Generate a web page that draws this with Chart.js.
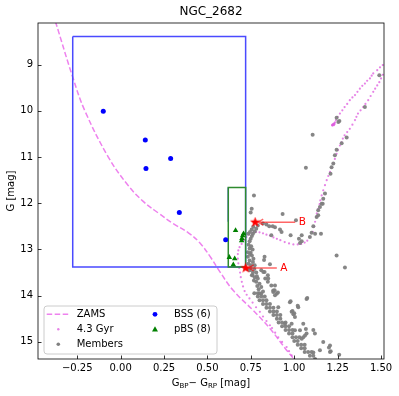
<!DOCTYPE html>
<html>
<head>
<meta charset="utf-8">
<script src="https://cdn.jsdelivr.net/npm/chart.js@4.4.1/dist/chart.umd.min.js"></script>
<style>
  html, body { margin: 0; padding: 0; background: white; }
  canvas { display: block; }
</style>
</head>
<body>
<canvas id="cmd" width="399" height="396"></canvas>
<script>
const FONT = "'DejaVu Sans', sans-serif";

// Tick labels
const xTicks = [-0.25, 0, 0.25, 0.5, 0.75, 1.0, 1.25, 1.5];
const yTicks = [9, 10, 11, 12, 13, 14, 15];

// Zero-age main sequence (BP-RP, G)
const zams = [
    [-0.39, 7.9], [-0.373, 8.1], [-0.276, 9.27], [-0.206, 10.0], [-0.071, 11.0],
    [0.04, 11.6], [0.13, 11.96], [0.22, 12.22], [0.303, 12.44], [0.39, 12.64], [0.457, 12.86],
    [0.52, 13.18], [0.573, 13.49], [0.649, 13.89], [0.764, 14.32], [0.86, 14.71],
    [0.956, 15.18], [1.004, 15.4], [1.02, 15.5]
];

// 4.3 Gyr isochrone
const isochrone = [
    [1.0, 15.37], [0.985, 15.29], [0.97, 15.2], [0.956, 15.11], [0.93, 15.0], [0.908, 14.9],
    [0.89, 14.8], [0.872, 14.7], [0.86, 14.64], [0.84, 14.55], [0.82, 14.45], [0.802, 14.35],
    [0.78, 14.25], [0.76, 14.15], [0.742, 14.06], [0.726, 13.98], [0.714, 13.9], [0.705, 13.8],
    [0.698, 13.7], [0.692, 13.6], [0.688, 13.5], [0.683, 13.4], [0.678, 13.3], [0.675, 13.2],
    [0.675, 13.1], [0.678, 13.02], [0.685, 12.95], [0.697, 12.88], [0.71, 12.8], [0.725, 12.73],
    [0.74, 12.68], [0.76, 12.64], [0.78, 12.62], [0.8, 12.63], [0.82, 12.65], [0.84, 12.68],
    [0.86, 12.7], [0.88, 12.74], [0.9, 12.77], [0.92, 12.8], [0.945, 12.84], [0.97, 12.87],
    [0.995, 12.89], [1.02, 12.89], [1.04, 12.88], [1.06, 12.85], [1.075, 12.81], [1.09, 12.73],
    [1.106, 12.62], [1.115, 12.5], [1.12, 12.4], [1.126, 12.3], [1.13, 12.22], [1.138, 12.12],
    [1.146, 12.02], [1.15, 11.94], [1.158, 11.83], [1.167, 11.72], [1.177, 11.61], [1.187, 11.5],
    [1.196, 11.41], [1.206, 11.32], [1.215, 11.23], [1.225, 11.14], [1.234, 11.04], [1.244, 10.93],
    [1.252, 10.85], [1.263, 10.75], [1.273, 10.68], [1.28, 10.6], [1.29, 10.53], [1.305, 10.46],
    [1.32, 10.39], [1.335, 10.3], [1.35, 10.2], [1.358, 10.13], [1.367, 10.06], [1.382, 9.99],
    [1.397, 9.92], [1.41, 9.85], [1.426, 9.77], [1.44, 9.68], [1.455, 9.59], [1.466, 9.52],
    [1.478, 9.45], [1.49, 9.38], [1.5, 9.3], [1.51, 9.22],
    [1.22, 10.3], [1.225, 10.28], [1.23, 10.27], [1.22, 10.32], [1.228, 10.31], [1.235, 10.25],
    [1.24, 10.2], [1.232, 10.29], [1.218, 10.31], [1.226, 10.3],
    [1.25, 10.13], [1.263, 10.06], [1.277, 9.99], [1.29, 9.92], [1.305, 9.85], [1.32, 9.77],
    [1.335, 9.71], [1.35, 9.66], [1.364, 9.59], [1.378, 9.52], [1.392, 9.46], [1.407, 9.41],
    [1.42, 9.35], [1.436, 9.3], [1.446, 9.24], [1.455, 9.19], [1.478, 9.12], [1.494, 9.06],
    [1.51, 9.01]
];

// Cluster members
const members = [
    [1.49, 9.23], [1.407, 9.92], [1.254, 10.24], [1.244, 10.15], [1.26, 10.22], [1.302, 10.58],
    [1.273, 10.7], [1.106, 10.52], [1.244, 10.84], [1.234, 10.96], [1.225, 11.14], [1.215, 11.22],
    [1.209, 11.36], [1.067, 11.23], [1.177, 11.79], [1.167, 11.9], [1.158, 12.01], [1.148, 12.08],
    [1.164, 12.01], [1.138, 12.15], [1.138, 12.26], [1.129, 12.3], [1.11, 12.5], [0.768, 11.83],
    [1.01, 12.37], [0.933, 12.23], [0.856, 12.5], [0.876, 12.5], [0.889, 12.52], [0.918, 12.57],
    [0.927, 12.62], [0.979, 12.69], [1.027, 12.77], [1.043, 12.82], [1.033, 12.86],
    [1.043, 12.69], [1.09, 12.73], [1.1, 12.64], [1.12, 12.66], [1.154, 12.66],
    [0.868, 12.69], [0.84, 12.46], [0.82, 12.44],
    [0.755, 12.12], [0.749, 12.2], [0.79, 12.48], [0.781, 12.55], [0.772, 12.61], [0.762, 12.66],
    [0.756, 12.71], [0.749, 12.77], [0.743, 12.82], [0.737, 12.9], [0.752, 12.93], [0.743, 12.98],
    [0.733, 13.06], [0.749, 13.07], [0.756, 13.13], [0.733, 13.16], [0.743, 13.24], [0.762, 13.27],
    [0.737, 13.31], [0.752, 13.34], [0.772, 13.34], [0.729, 13.42], [0.743, 13.45], [0.762, 13.49],
    [0.781, 13.5], [0.756, 13.56], [0.772, 13.6], [0.79, 13.63], [0.768, 13.67], [0.781, 13.7],
    [0.8, 13.74], [0.787, 13.79], [0.81, 13.81], [0.795, 13.86], [0.82, 13.91], [0.81, 13.96],
    [0.764, 12.51], [0.755, 12.57], [0.745, 12.62], [0.735, 12.66],
    [0.76, 13.0], [0.745, 13.1], [0.765, 13.2], [0.75, 13.4], [0.77, 13.42], [0.76, 13.55], [0.785, 13.58],
    [0.829, 13.16], [0.826, 13.23], [0.86, 13.32], [0.81, 13.45], [0.829, 13.49], [0.848, 13.56],
    [0.833, 13.63], [0.848, 13.7], [0.868, 13.78], [0.887, 13.88], [0.906, 13.93], [0.822, 13.49],
    [0.85, 13.63], [0.889, 13.78], [0.879, 13.89], [0.899, 13.96], [0.879, 13.92], [0.889, 13.99],
    [1.244, 13.13], [1.292, 13.39],
    [0.77, 13.95], [0.79, 13.95], [0.8, 13.95], [0.79, 14.02], [0.81, 14.02], [0.83, 14.02],
    [0.8, 14.1], [0.82, 14.1], [0.84, 14.1], [0.82, 14.18], [0.84, 14.18], [0.86, 14.18],
    [0.84, 14.26], [0.86, 14.26], [0.88, 14.26], [0.86, 14.34], [0.88, 14.34], [0.9, 14.34],
    [0.88, 14.42], [0.9, 14.42], [0.92, 14.42], [0.9, 14.5], [0.92, 14.5], [0.91, 14.58],
    [0.93, 14.58], [0.95, 14.58], [0.93, 14.66], [0.95, 14.66], [0.97, 14.66], [0.95, 14.74],
    [0.97, 14.74], [0.99, 14.74], [0.97, 14.82], [0.99, 14.82], [0.99, 14.9], [1.01, 14.9],
    [1.03, 14.9], [1.0, 14.98], [1.02, 14.98], [1.02, 15.06], [1.04, 15.06], [1.06, 15.06],
    [1.04, 15.14], [1.06, 15.14], [1.06, 15.22], [1.08, 15.22], [1.1, 15.22], [1.09, 15.3],
    [1.11, 15.3], [1.12, 15.37],
    [0.975, 14.14], [1.071, 14.07], [1.075, 14.05], [1.023, 14.25], [1.02, 14.22], [0.979, 14.12],
    [0.908, 14.25], [0.985, 14.35], [0.99, 14.33], [1.0, 14.38], [0.995, 14.4], [1.004, 14.46],
    [0.946, 14.61], [0.985, 14.61], [1.052, 14.61], [1.004, 14.75], [1.033, 14.75], [1.067, 14.72],
    [1.11, 14.74], [1.071, 14.82], [1.052, 14.9], [1.043, 14.93], [1.062, 14.86], [1.119, 14.82],
    [1.167, 15.0], [1.206, 15.08], [1.2, 15.12], [1.148, 15.18], [1.21, 15.2], [1.11, 15.23],
    [1.206, 15.22], [1.259, 15.28]
];

// Blue stragglers and probable blue stragglers
const bss = [[-0.1, 10.01], [0.142, 10.63], [0.146, 11.25], [0.288, 11.03], [0.338, 12.2], [0.605, 12.79]];
const pbs = [[0.662, 12.59], [0.703, 12.7], [0.699, 12.76], [0.697, 12.81], [0.708, 12.66],
             [0.626, 13.17], [0.657, 13.2], [0.649, 13.33]];

// Selection boxes
const bssBox = [[-0.276, 8.39], [0.72, 8.39], [0.72, 13.38], [-0.276, 13.38], [-0.276, 8.39]];
const bssBoxInner = [[0.62, 11.66], [0.62, 12.4]];
const pbsBox = [[0.62, 12.4], [0.62, 11.66], [0.72, 11.66], [0.72, 13.38], [0.62, 13.38], [0.62, 12.4]];

// Marked stars A and B
const markLabels = ["A", "B"];
const markPoints = [[0.72, 13.4], [0.775, 12.41]];
const markText = [[0.94, 13.4], [1.046, 12.41]];

const toXY = arr => arr.map(([x, y]) => ({ x, y }));

function starImage(size, color) {
    const c = document.createElement("canvas");
    c.width = c.height = size;
    const ctx = c.getContext("2d");
    const cx = size / 2, cy = size / 2, R = size / 2, r = R * 0.42;
    ctx.beginPath();
    for (let i = 0; i < 10; i++) {
        const a = -Math.PI / 2 + i * Math.PI / 5;
        const rad = i % 2 === 0 ? R : r;
        ctx.lineTo(cx + rad * Math.cos(a), cy + rad * Math.sin(a));
    }
    ctx.closePath();
    ctx.fillStyle = color;
    ctx.fill();
    return c;
}

const ISO_COLOR = "rgba(222,90,222,0.75)";

const decorations = {
    id: "decorations",
    afterDatasetsDraw(chart) {
        const { ctx, chartArea: a, scales: { x, y } } = chart;
        ctx.save();

        // annotation arrows and labels
        ctx.font = "10.5px " + FONT;
        ctx.textAlign = "center";
        ctx.textBaseline = "middle";
        markLabels.forEach((lab, i) => {
            const px = x.getPixelForValue(markPoints[i][0]) + 3;
            const py = y.getPixelForValue(markPoints[i][1]);
            const tx = x.getPixelForValue(markText[i][0]);
            const ty = y.getPixelForValue(markText[i][1]);
            ctx.strokeStyle = "rgba(255,0,0,0.6)";
            ctx.lineWidth = 1.5;
            ctx.beginPath();
            ctx.moveTo(tx - 7, ty);
            ctx.lineTo(px, py);
            ctx.moveTo(px + 5, py - 3);
            ctx.lineTo(px, py);
            ctx.lineTo(px + 5, py + 3);
            ctx.stroke();
            ctx.fillStyle = "red";
            ctx.fillText(lab, tx, ty + 0.5);
        });

        // spines
        ctx.strokeStyle = "black";
        ctx.lineWidth = 0.8;
        ctx.strokeRect(a.left, a.top, a.right - a.left, a.bottom - a.top);

        // inward ticks
        ctx.beginPath();
        xTicks.forEach(v => {
            const p = Math.round(x.getPixelForValue(v)) + 0.5;
            ctx.moveTo(p, a.bottom);
            ctx.lineTo(p, a.bottom - 3.5);
        });
        yTicks.forEach(v => {
            const p = Math.round(y.getPixelForValue(v)) + 0.5;
            ctx.moveTo(a.left, p);
            ctx.lineTo(a.left + 3.5, p);
        });
        ctx.stroke();

        // title
        ctx.fillStyle = "black";
        ctx.font = "12px " + FONT;
        ctx.textAlign = "center";
        ctx.textBaseline = "middle";
        ctx.fillText("NGC_2682", (a.left + a.right) / 2, 12);

        // y label
        ctx.font = "10px " + FONT;
        ctx.save();
        ctx.translate(11, (a.top + a.bottom) / 2);
        ctx.rotate(-Math.PI / 2);
        ctx.fillText("G [mag]", 0, 0);
        ctx.restore();

        // x label with subscripts
        const parts = [["G", 10, 0], ["BP", 7, 2.5], ["\u2212 G", 10, 0], ["RP", 7, 2.5], [" [mag]", 10, 0]];
        ctx.textAlign = "left";
        ctx.textBaseline = "alphabetic";
        let total = 0;
        parts.forEach(([t, s]) => { ctx.font = s + "px " + FONT; total += ctx.measureText(t).width; });
        let cx = (a.left + a.right) / 2 - total / 2;
        parts.forEach(([t, s, dy]) => {
            ctx.font = s + "px " + FONT;
            ctx.fillText(t, cx, 385.5 + dy);
            cx += ctx.measureText(t).width;
        });

        // legend
        const lx = 44, ly = 306, lw = 173, lh = 48;
        ctx.beginPath();
        ctx.roundRect(lx, ly, lw, lh, 3);
        ctx.fillStyle = "rgba(255,255,255,0.8)";
        ctx.fill();
        ctx.strokeStyle = "#cccccc";
        ctx.lineWidth = 1;
        ctx.stroke();

        ctx.font = "10px " + FONT;
        ctx.textBaseline = "middle";
        ctx.fillStyle = "black";
        const rows = [314.3, 329.3, 344.3];
        ctx.fillText("ZAMS", 76.7, rows[0]);
        ctx.fillText("4.3 Gyr", 76.7, rows[1]);
        ctx.fillText("Members", 76.7, rows[2]);
        ctx.fillText("BSS (6)", 174, rows[0]);
        ctx.fillText("pBS (8)", 174, rows[1]);

        ctx.strokeStyle = "violet";
        ctx.lineWidth = 1.5;
        ctx.setLineDash([5.5, 2.5]);
        ctx.beginPath();
        ctx.moveTo(46.7, rows[0]);
        ctx.lineTo(68.3, rows[0]);
        ctx.stroke();
        ctx.setLineDash([]);

        ctx.fillStyle = ISO_COLOR;
        ctx.beginPath(); ctx.arc(58.3, rows[1], 1.2, 0, 2 * Math.PI); ctx.fill();
        ctx.fillStyle = "gray";
        ctx.beginPath(); ctx.arc(58.3, rows[2], 1.8, 0, 2 * Math.PI); ctx.fill();
        ctx.fillStyle = "blue";
        ctx.beginPath(); ctx.arc(155, rows[0], 2.4, 0, 2 * Math.PI); ctx.fill();
        ctx.fillStyle = "green";
        ctx.beginPath();
        ctx.moveTo(155, rows[1] - 3);
        ctx.lineTo(158, rows[1] + 2.2);
        ctx.lineTo(152, rows[1] + 2.2);
        ctx.closePath();
        ctx.fill();

        ctx.restore();
    }
};

new Chart(document.getElementById("cmd"), {
    type: "scatter",
    data: {
        datasets: [
            { data: toXY(markPoints), pointStyle: starImage(11, "red"), pointRadius: 5.5 },
            { data: toXY(pbs), pointStyle: "triangle", pointRadius: 3.2, backgroundColor: "green", borderWidth: 0 },
            { data: toXY(bss), pointRadius: 2.5, backgroundColor: "blue", borderWidth: 0 },
            { data: toXY(pbsBox), showLine: true, pointRadius: 0, borderColor: "#2e8b2e", borderWidth: 1.5 },
            { data: toXY(bssBoxInner), showLine: true, pointRadius: 0, borderColor: "#4a4aff", borderWidth: 1.5 },
            { data: toXY(bssBox), showLine: true, pointRadius: 0, borderColor: "#4a4aff", borderWidth: 1.5 },
            { data: toXY(members), pointRadius: 2, backgroundColor: "rgba(128,128,128,0.95)", borderWidth: 0 },
            { data: toXY(isochrone), pointRadius: 1.1, backgroundColor: ISO_COLOR, borderWidth: 0 },
            { data: toXY(zams), showLine: true, pointRadius: 0, borderColor: "violet", borderWidth: 1.5,
              borderDash: [5.5, 2.5], tension: 0.4 }
        ]
    },
    options: {
        responsive: false,
        animation: false,
        events: [],
        layout: { padding: { top: 23, right: 15, left: 0, bottom: 0 } },
        plugins: { legend: { display: false }, tooltip: { enabled: false }, title: { display: false } },
        scales: {
            x: {
                type: "linear", min: -0.476, max: 1.517,
                afterBuildTicks: s => { s.ticks = xTicks.map(v => ({ value: v })); },
                afterFit: s => { s.height = 37; },
                ticks: { color: "black", padding: 3, font: { family: FONT, size: 10 },
                         callback: v => v.toFixed(2).replace("-", "\u2212") },
                grid: { display: false, drawTicks: false },
                border: { display: false }
            },
            y: {
                type: "linear", reverse: true, min: 8.1, max: 15.37,
                afterBuildTicks: s => { s.ticks = yTicks.map(v => ({ value: v })); },
                afterFit: s => { s.width = 38; },
                ticks: { color: "black", padding: 5, font: { family: FONT, size: 10 },
                         callback: v => String(v) },
                grid: { display: false, drawTicks: false },
                border: { display: false }
            }
        }
    },
    plugins: [decorations]
});
</script>
</body>
</html>
